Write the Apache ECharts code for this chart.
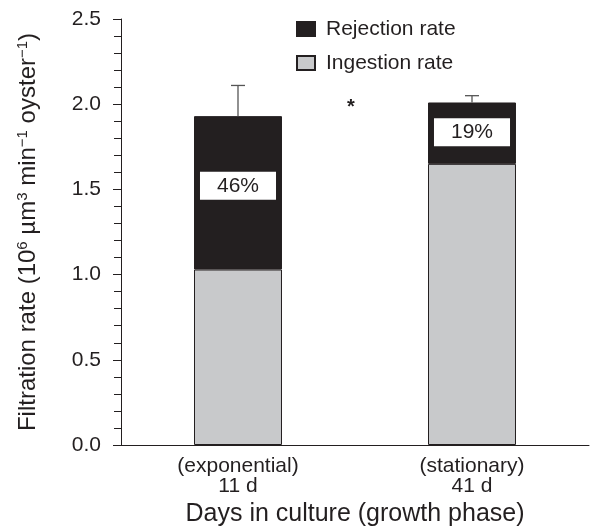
<!DOCTYPE html>
<html>
<head>
<meta charset="utf-8">
<script src="https://cdn.jsdelivr.net/npm/echarts@6/dist/echarts.min.js"></script>
<style>html,body{margin:0;padding:0;background:#fff}#c{width:590px;height:532px}</style>
</head>
<body>
<div id="c"></div>
<script>
var categories = ['(exponential)\n11 d', '(stationary)\n41 d'];
var ingestion = [1.03, 1.65];
var rejection = [0.90, 0.36];
var errorUp = [0.18, 0.04];
var percentLabels = ['46%', '19%'];
var labelOffsets = [-7, -1];

var totals = ingestion.map(function (v, i) { return v + rejection[i]; });
var FONT = 'Liberation Sans, Arial, sans-serif';
var INK = '#231f20';

var chart = echarts.init(document.getElementById('c'));
chart.setOption({
  animation: false,
  textStyle: { fontFamily: FONT },
  grid: { left: 121, right: 1, top: 19, bottom: 87 },
  legend: {
    orient: 'vertical', left: 291, top: 13,
    icon: 'rect',
    itemWidth: 18, itemHeight: 14, itemGap: 12,
    data: ['Rejection rate', 'Ingestion rate'],
    textStyle: { fontSize: 21, lineHeight: 22, color: INK, fontFamily: FONT, padding: [0, 0, 0, 6] }
  },
  xAxis: {
    type: 'category',
    data: categories,
    name: 'Days in culture (growth phase)',
    nameLocation: 'middle', nameGap: 56,
    nameTextStyle: { fontSize: 25, color: INK },
    axisLine: { lineStyle: { color: INK, width: 1 } },
    axisTick: { length: 6, lineStyle: { color: INK } },
    axisLabel: { fontSize: 21, color: INK, lineHeight: 20, margin: 11 }
  },
  yAxis: {
    type: 'value', min: 0, max: 2.5, interval: 0.5,
    name: '{n|Filtration rate (10}{s|6}{n| \u00b5m}{s|3}{n| min}{s|\u22121}{n| oyster}{s|\u22121}{n|)}',
    nameLocation: 'middle', nameGap: 80,
    nameTextStyle: {
      color: INK,
      rich: {
        n: { fontSize: 24, color: INK, fontFamily: FONT, lineHeight: 26 },
        s: { fontSize: 15, color: INK, fontFamily: FONT, verticalAlign: 'top', lineHeight: 26, padding: [0, 0, 9, 0] }
      }
    },
    axisLine: { show: true, lineStyle: { color: INK, width: 1 } },
    axisTick: { show: true, length: 8, lineStyle: { color: INK } },
    minorTick: { show: true, splitNumber: 5, length: 7, lineStyle: { color: INK } },
    splitLine: { show: false },
    axisLabel: {
      fontSize: 21, color: INK, margin: 20,
      formatter: function (v) { return v.toFixed(1); }
    }
  },
  graphic: [{
    type: 'text', left: 347, top: 97,
    style: { text: '*', fontSize: 20, fontWeight: 'bold', fill: INK, fontFamily: FONT }
  }],
  series: [
    {
      name: 'Ingestion rate', type: 'bar', stack: 'a', barWidth: '37.6%',
      itemStyle: { color: '#c8c9cb', borderColor: INK, borderWidth: 1 },
      data: ingestion
    },
    {
      name: 'Rejection rate', type: 'bar', stack: 'a', barWidth: '37.6%',
      itemStyle: { color: INK, borderColor: INK, borderWidth: 1 },
      data: rejection.map(function (v, i) {
        return {
          value: v,
          label: {
            show: true, position: 'inside', offset: [0, labelOffsets[i]],
            formatter: percentLabels[i],
            backgroundColor: '#ffffff', color: INK,
            fontSize: 21, lineHeight: 22, padding: [3, 17], fontFamily: FONT
          }
        };
      })
    },
    {
      type: 'custom', z: 10, silent: true,
      data: totals.map(function (t, i) { return [i, t, t + errorUp[i]]; }),
      renderItem: function (params, api) {
        var lo = api.coord([api.value(0), api.value(1)]);
        var hi = api.coord([api.value(0), api.value(2)]);
        var cap = 7;
        var st = { stroke: '#555', lineWidth: 1.3 };
        return {
          type: 'group',
          children: [
            { type: 'line', shape: { x1: lo[0], y1: lo[1], x2: hi[0], y2: hi[1] }, style: st },
            { type: 'line', shape: { x1: hi[0] - cap, y1: hi[1], x2: hi[0] + cap, y2: hi[1] }, style: st }
          ]
        };
      }
    }
  ]
});
</script>
</body>
</html>
